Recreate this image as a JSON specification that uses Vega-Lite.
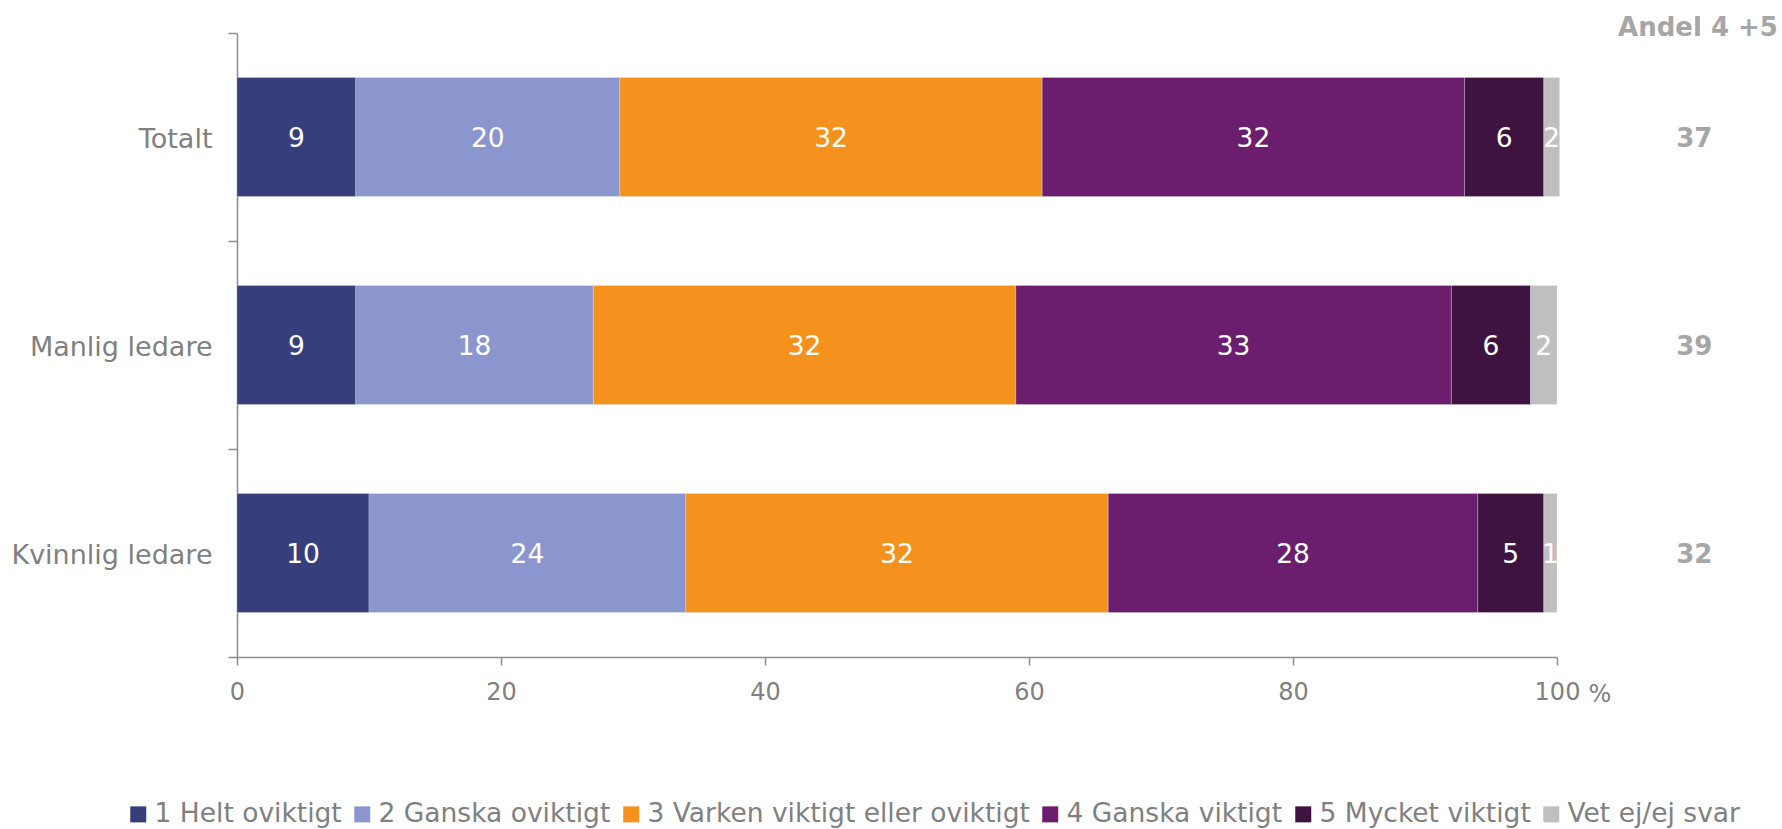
{
  "$schema": "https://vega.github.io/schema/vega-lite/v6.json",
  "width": 1320,
  "height": 624,
  "autosize": {"type": "none"},
  "padding": {"left": 237, "top": 33, "right": 225, "bottom": 172},
  "background": "white",
  "config": {"font": "DejaVu Sans", "view": {"stroke": null}},
  "title": {"text": "Andel 4 +5", "anchor": "end", "frame": "group", "align": "center", "dx": 141, "fontSize": 26, "fontWeight": "bold", "color": "#A6A6A6", "baseline": "alphabetic", "offset": -43},
  "datasets": {
    "main": [
      {"group": "Totalt", "cat": "1 Helt oviktigt", "value": 9, "label": "9"},
      {"group": "Totalt", "cat": "2 Ganska oviktigt", "value": 20, "label": "20"},
      {"group": "Totalt", "cat": "3 Varken viktigt eller oviktigt", "value": 32, "label": "32"},
      {"group": "Totalt", "cat": "4 Ganska viktigt", "value": 32, "label": "32"},
      {"group": "Totalt", "cat": "5 Mycket viktigt", "value": 6, "label": "6"},
      {"group": "Totalt", "cat": "Vet ej/ej svar", "value": 1.2, "label": "2"},
      {"group": "Manlig ledare", "cat": "1 Helt oviktigt", "value": 9, "label": "9"},
      {"group": "Manlig ledare", "cat": "2 Ganska oviktigt", "value": 18, "label": "18"},
      {"group": "Manlig ledare", "cat": "3 Varken viktigt eller oviktigt", "value": 32, "label": "32"},
      {"group": "Manlig ledare", "cat": "4 Ganska viktigt", "value": 33, "label": "33"},
      {"group": "Manlig ledare", "cat": "5 Mycket viktigt", "value": 6, "label": "6"},
      {"group": "Manlig ledare", "cat": "Vet ej/ej svar", "value": 2, "label": "2"},
      {"group": "Kvinnlig ledare", "cat": "1 Helt oviktigt", "value": 10, "label": "10"},
      {"group": "Kvinnlig ledare", "cat": "2 Ganska oviktigt", "value": 24, "label": "24"},
      {"group": "Kvinnlig ledare", "cat": "3 Varken viktigt eller oviktigt", "value": 32, "label": "32"},
      {"group": "Kvinnlig ledare", "cat": "4 Ganska viktigt", "value": 28, "label": "28"},
      {"group": "Kvinnlig ledare", "cat": "5 Mycket viktigt", "value": 5, "label": "5"},
      {"group": "Kvinnlig ledare", "cat": "Vet ej/ej svar", "value": 1, "label": "1"}
    ],
    "andel": [
      {"group": "Totalt", "andel": 37},
      {"group": "Manlig ledare", "andel": 39},
      {"group": "Kvinnlig ledare", "andel": 32}
    ]
  },
  "layer": [
    {
      "data": {"name": "main"},
      "mark": {"type": "bar", "size": 119, "stroke": "#ffffff", "strokeWidth": 0.6, "strokeOpacity": 0.4},
      "encoding": {
        "y": {"field": "group", "type": "nominal", "sort": ["Totalt", "Manlig ledare", "Kvinnlig ledare"],
          "scale": {"paddingInner": 0, "paddingOuter": 0},
          "axis": {"title": null, "labelFontSize": 27, "labelLimit": 400, "labelOffset": 2, "labelColor": "#808080", "domainColor": "#8C8C8C", "tickColor": "#8C8C8C", "domainWidth": 1.5, "tickWidth": 1.5, "tickSize": 9, "labelPadding": 16, "tickBand": "extent"}},
        "x": {"field": "value", "type": "quantitative", "stack": "zero",
          "scale": {"domain": [0, 100], "nice": false},
          "axis": {"values": [0, 20, 40, 60, 80, 100], "grid": false, "labelFontSize": 24, "labelColor": "#808080", "domainColor": "#8C8C8C", "tickColor": "#8C8C8C", "domainWidth": 1.5, "tickWidth": 1.5, "tickSize": 8, "labelPadding": 15, "labelFlush": false,
            "title": "%", "titleX": 1351, "titleY": 37, "titleAlign": "left", "titleBaseline": "middle", "titleFontSize": 24, "titleFontWeight": "normal", "titleColor": "#808080"}},
        "color": {"field": "cat", "type": "nominal",
          "scale": {"domain": ["1 Helt oviktigt", "2 Ganska oviktigt", "3 Varken viktigt eller oviktigt", "4 Ganska viktigt", "5 Mycket viktigt", "Vet ej/ej svar"],
            "range": ["#363F7B", "#8B96CF", "#F5921E", "#6B1E6D", "#3E1340", "#BFBFBF"]},
          "legend": {"orient": "none", "legendX": -112, "legendY": 768, "direction": "horizontal", "title": null, "symbolType": "square", "symbolSize": 256, "symbolStrokeWidth": 0, "symbolOpacity": 1, "labelFontSize": 26.5, "labelColor": "#808080", "columnPadding": 7, "labelOffset": 3, "padding": 0, "labelLimit": 600}},
        "order": {"field": "cat"}
      }
    },
    {
      "data": {"name": "main"},
      "mark": {"type": "text", "color": "#ffffff", "fontSize": 26.5, "baseline": "middle", "align": "center", "dy": 2},
      "encoding": {
        "y": {"field": "group", "type": "nominal", "sort": ["Totalt", "Manlig ledare", "Kvinnlig ledare"]},
        "x": {"field": "value", "type": "quantitative", "stack": "zero", "bandPosition": 0.5, "scale": {"domain": [0, 100], "nice": false}},
        "detail": {"field": "cat"},
        "order": {"field": "cat"},
        "text": {"field": "label"}
      }
    },
    {
      "data": {"name": "andel"},
      "mark": {"type": "text", "color": "#A6A6A6", "fontSize": 26, "fontWeight": "bold", "baseline": "middle", "align": "center", "dy": 2},
      "encoding": {
        "y": {"field": "group", "type": "nominal", "sort": ["Totalt", "Manlig ledare", "Kvinnlig ledare"]},
        "x": {"datum": 110.4, "type": "quantitative", "scale": {"domain": [0, 100], "nice": false}},
        "text": {"field": "andel"}
      }
    }
  ]
}
